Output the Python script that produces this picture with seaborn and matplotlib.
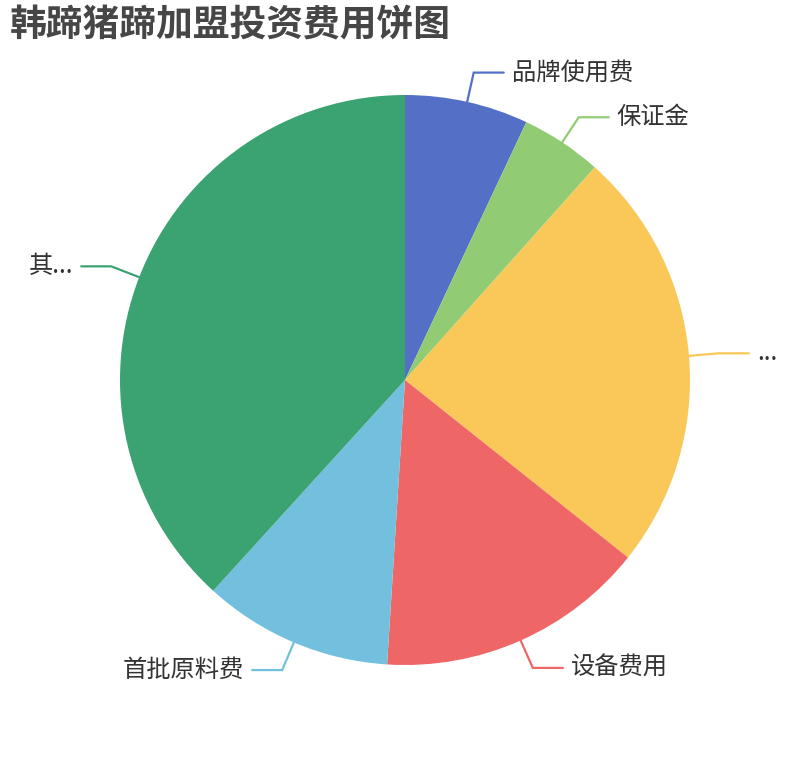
import numpy as np
import matplotlib
matplotlib.use("Agg")
import matplotlib.pyplot as plt
import seaborn as sns

sns.set_theme(style="white")
plt.rcParams['font.family'] = ['Noto Sans CJK SC', 'DejaVu Sans']

# data (share of total cost, %)
labels = ['品牌使用费', '保证金', '...', '设备费用', '首批原料费', '其...']
values = [7.0, 4.6, 24.1, 15.3, 10.75, 38.25]
colors = ['#5470c6', '#91cc75', '#fac858', '#ee6666', '#73c0de', '#3ba272']
title = '韩蹄猪蹄加盟投资费用饼图'

W, H = 810, 760
cx, cy, r = 405, 380, 285

fig = plt.figure(figsize=(W / 100, H / 100), dpi=100)
ax = fig.add_axes([0, 0, 1, 1])

wedges, _ = ax.pie(values, colors=colors, startangle=90, counterclock=False,
                   radius=r, center=(cx, cy),
                   wedgeprops=dict(linewidth=0))
ax.set_xlim(0, W)
ax.set_ylim(0, H)
ax.set_aspect('equal')
ax.axis('off')

# leader lines + labels, echarts style
len1, len2, gap = 30, 30, 8
for w, lab, col in zip(wedges, labels, colors):
    mid = np.deg2rad((w.theta1 + w.theta2) / 2)
    dx, dy = np.cos(mid), np.sin(mid)
    p0 = (cx + r * dx, cy + r * dy)
    p1 = (cx + (r + len1) * dx, cy + (r + len1) * dy)
    side = 1 if dx >= 0 else -1
    p2 = (p1[0] + side * len2, p1[1])
    ax.plot([p0[0], p1[0], p2[0]], [p0[1], p1[1], p2[1]], color=col, lw=1.6,
            solid_joinstyle='miter')
    ax.text(p2[0] + side * gap, p2[1], lab, ha='left' if side > 0 else 'right',
            va='center', fontsize=17.5, color='#333333')

fig.text(10 / W, 1 - 26 / H, title, ha='left', va='center', fontsize=26.5,
         fontweight='bold', color='#464646')

fig.savefig('out.png', dpi=100)
